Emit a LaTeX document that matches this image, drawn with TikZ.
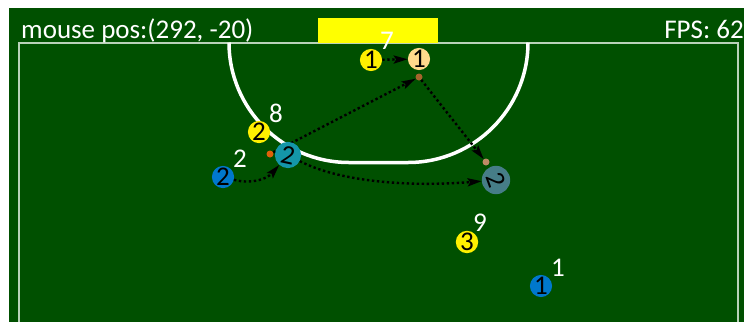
\documentclass[tikz,border=0pt]{standalone}
\usepackage{fontspec}
\setmainfont{Carlito}
\usetikzlibrary{arrows.meta}
\definecolor{pitch}{RGB}{0,80,0}
\definecolor{fieldline}{RGB}{185,210,185}
\definecolor{goalyellow}{RGB}{255,255,0}
\definecolor{plyellow}{RGB}{255,240,0}
\definecolor{plorange}{RGB}{255,218,140}
\definecolor{plteal}{RGB}{20,150,168}
\definecolor{plblue}{RGB}{0,120,204}
\definecolor{plgray}{RGB}{70,125,135}
\definecolor{dotorange}{RGB}{224,96,10}
\definecolor{dotbrown}{RGB}{165,100,45}
\definecolor{dottan}{RGB}{190,138,102}
\tikzset{
  pl/.style={circle, inner sep=0pt, minimum size=21pt, text=black},
  lab/.style={text=white, inner sep=0pt},
  hdr/.style={text=white, inner sep=0pt},
  pdot/.style={circle, inner sep=0pt, minimum size=7pt},
  arr/.style={draw=black, line width=2.4pt, dash pattern=on 2.4pt off 2.6pt,
    -{Stealth[length=14pt,width=8pt,inset=2.5pt]}},
}
\begin{document}
\begin{tikzpicture}[x=1pt,y=-1pt,font=\fontsize{27}{30}\selectfont]
\useasboundingbox (0,0) rectangle (744,322);
\fill[white] (0,0) rectangle (744,322);
\fill[pitch] (9,8) rectangle (744,322);
% field lines
\draw[fieldline, line width=2pt] (18.5,322) -- (18.5,42.5) -- (738,42.5) -- (738,322);
% shooting circle
\draw[white, line width=3.5pt] (229,42.5) arc[start angle=180, end angle=90, radius=120]
  -- (408,162.5) arc[start angle=90, end angle=0, radius=120];
% goal
\fill[goalyellow] (318,18) rectangle (438,42.5);
% header texts
\node[hdr, anchor=base west] (mpos) at (21,38) {mouse pos:(292, -20)};
\node[hdr, anchor=base east] (fps) at (744,38) {FPS: 62};
% dots
\node[pdot, fill=dotorange] (od) at (270,154) {};
\node[pdot, fill=dotbrown] (bd) at (419,77) {};
\node[pdot, fill=dottan] (td) at (486,162) {};
% connectors
\draw[arr] (od) -- (bd);
% players
\node[pl, fill=plyellow] (y1) at (371,60) {1};
\node[pl, fill=plorange, minimum size=22pt] (o1) at (419,59) {1};
\node[pl, fill=plyellow] (y2) at (259,132) {2};
\node[pl, fill=plteal, minimum size=24pt] (t2) at (288,155) {\rotatebox{-12}{2}};
\node[pl, fill=plblue, minimum size=22pt] (b2) at (223,177) {2};
\node[pl, fill=plgray, minimum size=22pt] (g2) at (496,180) {\rotatebox{-70}{2}};
\node[pl, fill=plyellow] (y3) at (467,242) {3};
\node[pl, fill=plblue, minimum size=22pt] (b1) at (541,286) {1};
% labels
\node[lab] (l7) at (387,41) {7};
\node[lab] (l8) at (276,113) {8};
\node[lab] (l2) at (240,159) {2};
\node[lab] (l9) at (480,223) {9};
\node[lab] (l1) at (558,268) {1};
% connectors
\draw[arr] (y1) -- (o1);
\draw[arr] (b2) .. controls (250,184) and (266,180) .. (t2);
\draw[arr] (bd) -- (td);
\draw[arr] (t2) .. controls (340,182) and (410,187) .. (g2);
\end{tikzpicture}
\end{document}
